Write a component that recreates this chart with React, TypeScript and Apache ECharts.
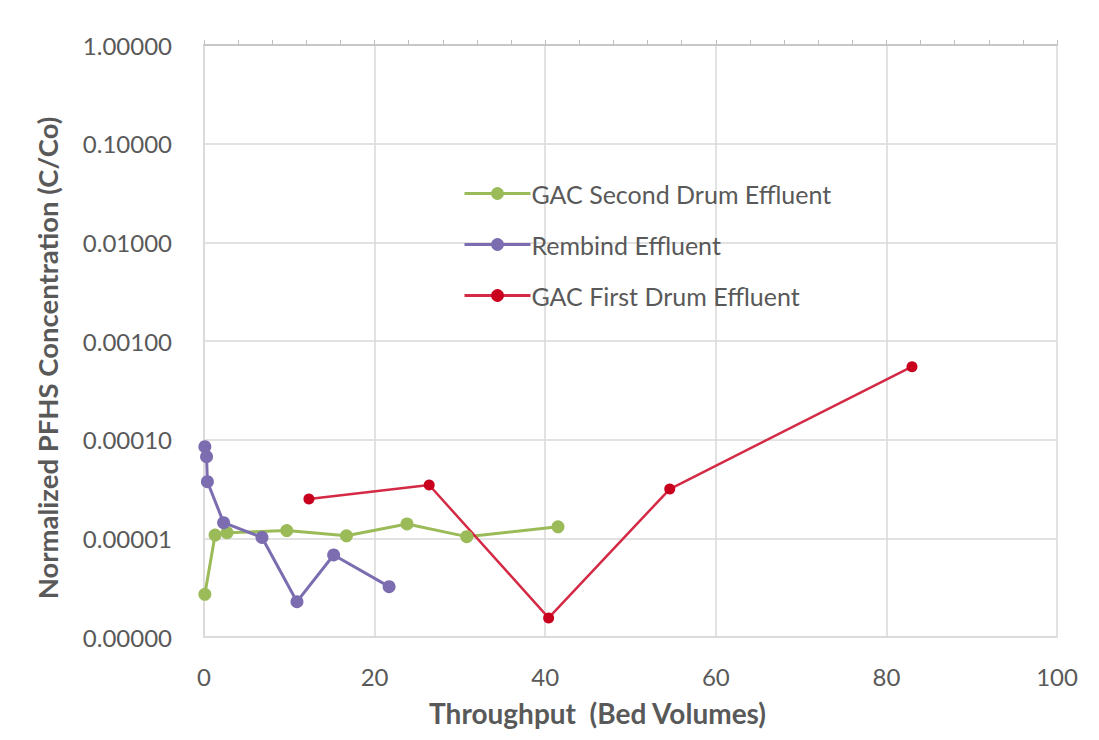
import React, { useEffect, useRef } from "react";
import * as echarts from "echarts";

const seriesNames = ["GAC Second Drum Effluent", "Rembind Effluent", "GAC First Drum Effluent"];

const gacSecondX = [0.1, 1.3, 2.7, 9.7, 16.7, 23.8, 30.8, 41.5];
const gacSecondY = [2.71e-6, 1.08e-5, 1.14e-5, 1.2e-5, 1.06e-5, 1.4e-5, 1.04e-5, 1.31e-5];

const rembindX = [0.1, 0.3, 0.4, 2.3, 6.8, 10.9, 15.2, 21.7];
const rembindY = [8.49e-5, 6.73e-5, 3.75e-5, 1.44e-5, 1.02e-5, 2.28e-6, 6.78e-6, 3.24e-6];

const gacFirstX = [12.3, 26.4, 40.4, 54.6, 83.0];
const gacFirstY = [2.5e-5, 3.47e-5, 1.56e-6, 3.16e-5, 5.49e-4];

const xTicks = [0, 20, 40, 60, 80, 100];
const yTicks = [1e-6, 1e-5, 1e-4, 1e-3, 1e-2, 1e-1, 1];

const zip = (xs: number[], ys: number[]) => xs.map((x, i) => [x, ys[i]]);

const FONT = "Lato, 'Open Sans', sans-serif";
const TEXT = "#595959";
const GRID = "#d9d9d9";

export default function App() {
  const ref = useRef<HTMLDivElement>(null);
  useEffect(() => {
    if (!ref.current) return;
    const chart = echarts.init(ref.current, null, { renderer: "svg" });
    chart.setOption({
      animation: false,
      backgroundColor: "#ffffff",
      textStyle: { fontFamily: FONT },
      grid: { left: 204, right: 42, top: 45, bottom: 103, containLabel: false },
      legend: {
        orient: "vertical",
        left: 458,
        top: 176,
        itemGap: 26,
        itemWidth: 66,
        itemHeight: 16,
        lineStyle: { width: 3 },
        data: seriesNames,
        textStyle: { fontSize: 25, color: TEXT, fontFamily: FONT, padding: [0, 0, 0, -4] },
      },
      xAxis: [
        {
          type: "value",
          min: xTicks[0],
          max: xTicks[xTicks.length - 1],
          interval: 20,
          position: "bottom",
          name: "Throughput  (Bed Volumes)",
          nameLocation: "middle",
          nameGap: 62,
          nameTextStyle: {
            fontSize: 28,
            fontWeight: "bold",
            color: TEXT,
            fontFamily: FONT,
            padding: [0, 66, 0, 0],
          },
          axisLine: { show: true, lineStyle: { color: GRID, width: 1.5 } },
          axisTick: { show: false },
          axisLabel: { fontSize: 24, color: TEXT, margin: 27, fontFamily: FONT },
          splitLine: { show: true, lineStyle: { color: GRID, width: 1.5 } },
        },
        {
          type: "value",
          min: 0,
          max: 100,
          interval: 4,
          position: "top",
          axisLine: { show: true, lineStyle: { color: "#bfbfbf", width: 1.5 } },
          axisTick: { show: true, length: 5, lineStyle: { color: "#bfbfbf" } },
          axisLabel: { show: false },
          splitLine: { show: false },
        },
      ],
      yAxis: {
        type: "log",
        logBase: 10,
        min: yTicks[0],
        max: yTicks[yTicks.length - 1],
        name: "Normalized PFHS Concentration (C/Co)",
        nameLocation: "middle",
        nameGap: 143,
        nameTextStyle: {
          fontSize: 27.5,
          fontWeight: "bold",
          color: TEXT,
          fontFamily: FONT,
          padding: [0, 34, 0, 0],
        },
        axisLine: { show: true, lineStyle: { color: GRID, width: 1.5 } },
        axisTick: { show: false },
        axisLabel: {
          fontSize: 24,
          color: TEXT,
          margin: 32,
          fontFamily: FONT,
          formatter: (v: number) => v.toFixed(5),
        },
        splitLine: { show: true, lineStyle: { color: GRID, width: 1.5 } },
      },
      series: [
        {
          name: seriesNames[0],
          type: "line",
          data: zip(gacSecondX, gacSecondY),
          symbol: "circle",
          symbolSize: 13,
          itemStyle: { color: "#9BBB59" },
          lineStyle: { color: "#9BBB59", width: 3 },
        },
        {
          name: seriesNames[1],
          type: "line",
          data: zip(rembindX, rembindY),
          symbol: "circle",
          symbolSize: 13,
          itemStyle: { color: "#7B6DB0" },
          lineStyle: { color: "#7B6DB0", width: 3 },
        },
        {
          name: seriesNames[2],
          type: "line",
          data: zip(gacFirstX, gacFirstY),
          symbol: "circle",
          symbolSize: 11,
          itemStyle: { color: "#C8001E" },
          lineStyle: { color: "#D42A45", width: 2.5 },
        },
      ],
    });
    return () => chart.dispose();
  }, []);
  return (
    <div
      ref={ref}
      style={{ position: "fixed", left: 0, top: 0, width: 1099, height: 740, background: "#fff" }}
    />
  );
}
